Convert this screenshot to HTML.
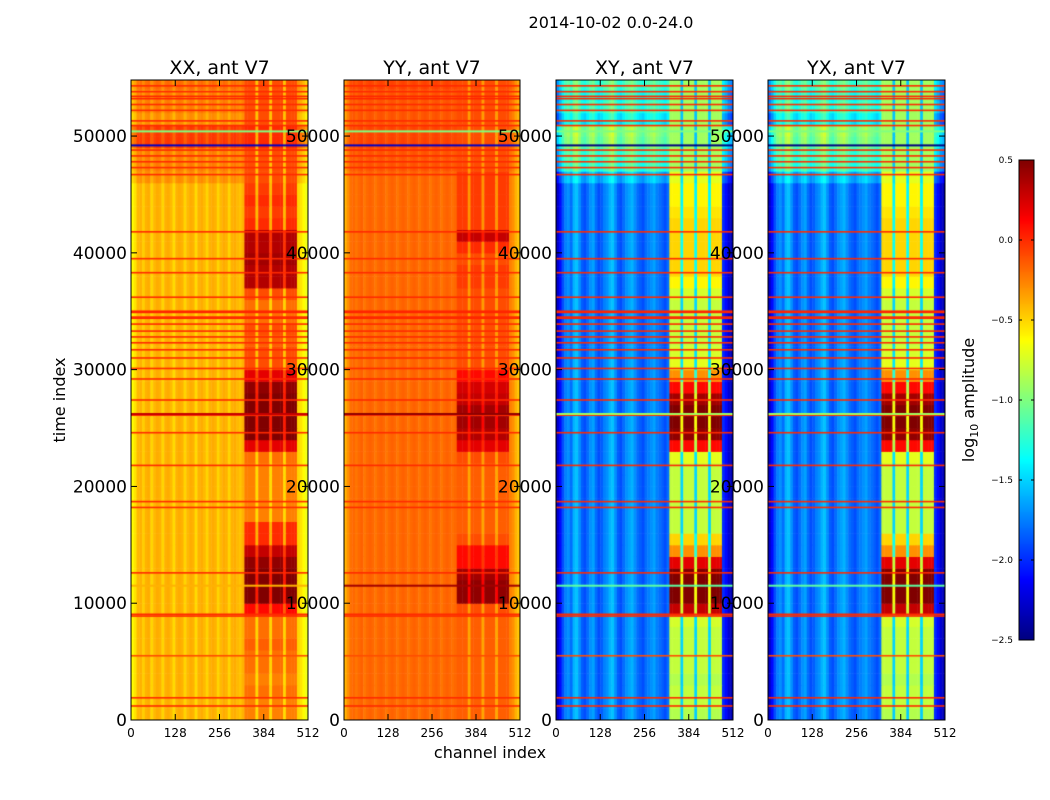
<!DOCTYPE html>
<html><head><meta charset="utf-8">
<style>
body{margin:0;background:#fff;width:1050px;height:800px;overflow:hidden;position:relative;font-family:"DejaVu Sans","Liberation Sans",sans-serif}
canvas{position:absolute}
svg{position:absolute;left:0;top:0;font-family:"DejaVu Sans","Liberation Sans",sans-serif}
</style></head>
<body>
<canvas id="c0" width="177" height="640" style="left:131px;top:80px"></canvas>
<canvas id="c1" width="176" height="640" style="left:344px;top:80px"></canvas>
<canvas id="c2" width="177" height="640" style="left:556px;top:80px"></canvas>
<canvas id="c3" width="177" height="640" style="left:768px;top:80px"></canvas>
<canvas id="cb" width="15" height="480" style="left:1019px;top:160px"></canvas>
<svg id="ov" width="1050" height="800"></svg>
<script>
// ---- data ----
const panelTitles=["XX, ant V7","YY, ant V7","XY, ant V7","YX, ant V7"];
const xTicks=[0,128,256,384,512];
const yTicks=[0,10000,20000,30000,40000,50000];
const cbTicks=[0.5,0.0,-0.5,-1.0,-1.5,-2.0,-2.5];
const cbTickLabels=["0.5","0.0","\u22120.5","\u22121.0","\u22121.5","\u22122.0","\u22122.5"];
const tMax=54800, nChan=512, vmin=-2.5, vmax=0.5;
const xxChan=[-0.62,-0.55,-0.42,-0.4,-0.48,-0.4,-0.38,-0.5,-0.42,-0.38,-0.4,-0.5,-0.4,-0.38,-0.42,-0.52,-0.4,-0.38,-0.4,-0.5,-0.42,-0.38,-0.4,-0.52,-0.4,-0.38,-0.42,-0.5,-0.4,-0.38,-0.4,-0.5,-0.42,-0.38,-0.4,-0.5,-0.4,-0.38,-0.42,-0.45,-0.4,-0.38,-0.4,-0.4,-0.4,-0.4,-0.4,-0.4,-0.4,-0.4,-0.4,-0.4,-0.4,-0.4,-0.4,-0.4,-0.4,-0.4,-0.4,-0.42,-0.5,-0.55,-0.62,-0.68];
const yyChan=[-0.4,-0.3,-0.2,-0.18,-0.22,-0.18,-0.16,-0.22,-0.18,-0.16,-0.18,-0.22,-0.18,-0.16,-0.18,-0.22,-0.18,-0.16,-0.18,-0.22,-0.18,-0.16,-0.18,-0.22,-0.18,-0.16,-0.18,-0.22,-0.18,-0.16,-0.18,-0.22,-0.18,-0.16,-0.18,-0.22,-0.18,-0.16,-0.18,-0.2,-0.18,-0.18,-0.18,-0.18,-0.18,-0.18,-0.18,-0.18,-0.18,-0.18,-0.18,-0.18,-0.18,-0.18,-0.18,-0.18,-0.18,-0.18,-0.18,-0.2,-0.25,-0.3,-0.4,-0.45];
const xyChan=[-2.3,-2.1,-1.9,-1.75,-1.7,-1.8,-1.6,-1.55,-1.7,-1.85,-1.9,-1.8,-1.7,-1.65,-1.8,-1.9,-1.85,-1.75,-1.7,-1.6,-1.55,-1.7,-1.85,-1.9,-1.8,-1.7,-1.65,-1.6,-1.7,-1.8,-1.85,-1.9,-1.8,-1.75,-1.7,-1.65,-1.75,-1.8,-1.85,-1.9,-1.8,-1.8,-1.8,-1.8,-1.8,-1.8,-1.8,-1.8,-1.8,-1.8,-1.8,-1.8,-1.8,-1.8,-1.8,-1.8,-1.8,-1.8,-1.8,-1.9,-2.0,-2.1,-2.25,-2.35];
const bandMask=[0,0,0,0,0,0,0,0,0,0,0,0,0,0,0,0,0,0,0,0,0,0,0,0,0,0,0,0,0,0,0,0,0,0,0,0,0,0,0,0,0,1,1,1,1,0.5,1,1,1,1,0.5,1,1,1,1,0.5,1,1,1,1,0,0,0,0];
const xxBand=[-0.25,-0.25,-0.2,-0.25,-0.2,-0.2,-0.15,-0.2,-0.2,0.1,0.5,0.5,0.5,0.45,0.3,0.0,0.0,-0.25,-0.25,-0.25,-0.25,-0.25,-0.2,0.2,0.5,0.5,0.5,0.5,0.45,0.2,-0.1,-0.1,-0.15,-0.1,-0.2,-0.2,-0.1,0.35,0.35,0.4,0.35,0.35,0.0,-0.05,0.0,-0.05,-0.1,-0.1,-0.1,0.0,0.0,-0.1,-0.1,-0.1,-0.1];
const yyBand=[-0.15,-0.15,-0.15,-0.15,-0.15,-0.15,-0.15,-0.15,-0.15,-0.1,0.45,0.45,0.4,0.1,0.1,-0.1,-0.15,-0.15,-0.15,-0.15,-0.15,-0.15,-0.1,0.2,0.35,0.4,0.4,0.3,0.25,0.1,-0.1,-0.1,-0.1,-0.1,-0.1,-0.1,-0.1,-0.05,-0.05,-0.1,0.0,0.3,-0.05,-0.05,-0.05,-0.05,-0.05,-0.1,-0.1,-0.1,-0.1,-0.1,-0.1,-0.1,-0.1];
const xyBand=[-0.85,-0.8,-0.8,-0.85,-0.8,-0.8,-0.8,-0.8,-0.75,0.3,0.5,0.5,0.5,0.2,-0.3,-0.5,-0.8,-0.8,-0.8,-0.8,-0.8,-0.8,-0.7,0.1,0.45,0.5,0.5,0.4,0.1,-0.3,-0.7,-0.75,-0.8,-0.8,-0.8,-0.8,-0.75,-0.6,-0.5,-0.5,-0.5,-0.5,-0.5,-0.55,-0.6,-0.6,-0.7,-0.9,-0.9,-0.9,-0.9,-0.9,-0.9,-0.9,-0.9];
const xxOff=[0,0,0,0,0,0,0,0,0,0,0,0,0,0,0,0,0,0,0,0,0,0,0,0,0,0,0,0,0,0,0,0,0,0,0,0,0,0,0,0,0,0,0,0,0,0,0.1,0.15,0.15,0.35,0.35,0.1,0.15,0.15,0.2];
const yyOff=[0,0,0,0,0,0,0,0,0,0,0,0,0,0,0,0,0,0,0,0,0,0,0,0,0,0,0,0,0,0,0,0,0,0,0,0,0,0,0,0,0,0,0,0,0,0,0,0.05,0.05,0.1,0.1,0.05,0.05,0.05,0.1];
const xyOff=[0,0,0,0,0,0,0,0,0,0,0,0,0,0,0,0,0,0,0,0,0,0,0,0,0,0,0,0,0,0,0,0,0,0,0,0,0,0,0,0,0,0,0,0,0,0,0.2,0.55,0.6,0.75,0.8,0.4,0.55,0.5,0.6];
const lineTimes=[1200,1900,5500,8900,9050,12600,18200,18700,21800,24600,26100,27400,29200,30100,31000,31700,32300,32800,33300,33900,34400,34500,34900,35000,36200,38300,39500,41800,46700,47300,47800,48300,48800,50900,51300,52200,52700,53200,53400,53800,54300];
const lineVals=[0,0,-0.1,0,0,0,0,0,0,0,0,0,0,0,0,0,0,0,0,0,0.02,0.02,0.02,0.02,0,0,0,0,0,0,0,0,0,0,0,0,0,0.02,0.02,0,0];
const specialTimes=[49200,50400,11500,26200];
const xxSpecial=[-2.3,-1.0,-0.4,0.3];
const yySpecial=[-2.3,-1.0,0.4,0.45];
const xySpecial=[-2.5,-1.0,-1.1,-0.9];

function jet(v){let x=(v-vmin)/(vmax-vmin);x=Math.max(0,Math.min(1,x));
 const c=t=>Math.round(255*Math.max(0,Math.min(1,1.5-Math.abs(t))));
 return `rgb(${c(4*x-3)},${c(4*x-2)},${c(4*x-1)})`;}
const W=[177,176,177,177];
function tY(t){return 640-t/tMax*640;}
function drawPanel(id,chan,band,off,special){
 const cv=document.getElementById(id),ctx=cv.getContext('2d'),w=cv.width;
 const xS=c=>c/nChan*w;
 for(let t=0;t<band.length;t++){
  for(let c=0;c<chan.length;c++){
   const m=bandMask[c];let v;
   if(m===1)v=band[t];else if(m===0.5)v=(band[t]+chan[c])/2-0.2*(band[t]>0?0:1);else v=chan[c]+off[t];
   ctx.fillStyle=jet(v);
   const x0=xS(c*8),x1=xS(c*8+8),y0=tY((t+1)*1000),y1=tY(t*1000);
   ctx.fillRect(x0,y0,x1-x0+0.5,y1-y0+0.5);
  }
 }
 for(let i=0;i<lineTimes.length;i++){ctx.fillStyle=jet(lineVals[i]);ctx.fillRect(0,tY(lineTimes[i])-0.8,w,1.6);}
 for(let i=0;i<specialTimes.length;i++){ctx.fillStyle=jet(special[i]);ctx.fillRect(0,tY(specialTimes[i])-1,w,2);}
}
drawPanel('c0',xxChan,xxBand,xxOff,xxSpecial);
drawPanel('c1',yyChan,yyBand,yyOff,yySpecial);
drawPanel('c2',xyChan,xyBand,xyOff,xySpecial);
drawPanel('c3',xyChan,xyBand,xyOff,xySpecial);
(function(){const cv=document.getElementById('cb'),ctx=cv.getContext('2d');
 for(let y=0;y<480;y++){ctx.fillStyle=jet(vmax-(y+0.5)/480*(vmax-vmin));ctx.fillRect(0,y,15,1);}})();
const NS='http://www.w3.org/2000/svg',ov=document.getElementById('ov');
function el(tag,attrs,txt){const e=document.createElementNS(NS,tag);for(const k in attrs)e.setAttribute(k,attrs[k]);if(txt!==undefined)e.textContent=txt;ov.appendChild(e);return e;}
const lefts=[131,344,556,768];
const names=['xx','yy','xy','yx'];
for(let p=0;p<4;p++){
 const L=lefts[p],w=W[p];
 const fr=el('rect',{x:L,y:80,width:w,height:640,fill:'none',stroke:'#000','stroke-width':1});
 
 
 const ti=el('text',{x:L+w/2,y:74,'font-size':19,'text-anchor':'middle'},panelTitles[p]);
 
 
 xTicks.forEach(v=>{const x=L+v/nChan*w;
  el('line',{x1:x,x2:x,y1:720,y2:714,stroke:'#000'});el('line',{x1:x,x2:x,y1:80,y2:86,stroke:'#000'});
  const t=el('text',{x:x,y:737,'font-size':12,'text-anchor':'middle'},String(v));
  
  });
 yTicks.forEach(v=>{const y=80+tY(v);
  el('line',{x1:L,x2:L+6,y1:y,y2:y,stroke:'#000'});el('line',{x1:L+w,x2:L+w-6,y1:y,y2:y,stroke:'#000'});
  const t=el('text',{x:L-4,y:y+6,'font-size':17,'text-anchor':'end'},String(v));
  
  });
}
let t;
t=el('text',{x:611,y:28,'font-size':16,'text-anchor':'middle'},'2014-10-02 0.0-24.0');

t=el('text',{x:490,y:758,'font-size':16,'text-anchor':'middle'},'channel index');

t=el('text',{x:0,y:0,'font-size':16,'text-anchor':'middle',transform:'translate(65,400) rotate(-90)'},'time index');

const cbf=el('rect',{x:1019,y:160,width:15,height:480,fill:'none',stroke:'#000'});

cbTicks.forEach((v,i)=>{const y=160+(vmax-v)/(vmax-vmin)*480;
 el('line',{x1:1019,x2:1022,y1:y,y2:y,stroke:'#000'});el('line',{x1:1034,x2:1031,y1:y,y2:y,stroke:'#000'});
 const tt=el('text',{x:1013,y:y+3,'font-size':9,'text-anchor':'end'},cbTickLabels[i]);
 });
const cl=el('text',{x:0,y:0,'font-size':16,'text-anchor':'middle',transform:'translate(974,400) rotate(-90)'});

cl.appendChild(document.createTextNode('log'));
const sub=document.createElementNS(NS,'tspan');sub.setAttribute('font-size','11');sub.setAttribute('dy','4');sub.textContent='10';cl.appendChild(sub);
const rest=document.createElementNS(NS,'tspan');rest.setAttribute('dy','-4');rest.textContent=' amplitude';cl.appendChild(rest);
</script>
</body></html>
